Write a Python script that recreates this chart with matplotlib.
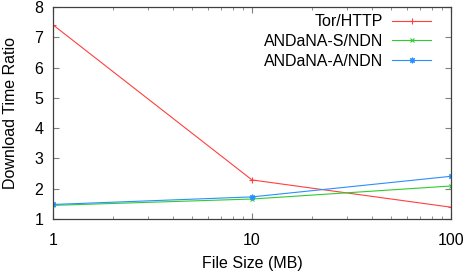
import numpy as np
import matplotlib
matplotlib.use('Agg')
import matplotlib.pyplot as plt

plt.rcParams['font.family'] = ['Liberation Sans', 'DejaVu Sans']

sizes = [1, 10, 100]  # file size (MB)
tor_http = [7.41, 2.29, 1.39]
andana_s = [1.45, 1.66, 2.09]
andana_a = [1.48, 1.73, 2.41]

fig = plt.figure(figsize=(4.66, 2.74), dpi=100)
ax = fig.add_axes([0.1137, 0.2007, 0.8541, 0.7738])

ax.plot(sizes, tor_http, '-', marker='+', color='#ff4040', lw=0.8, ms=4, mew=0.8, label='Tor/HTTP')
ax.plot(sizes, andana_s, '-', marker='x', color='#30cc30', lw=0.8, ms=3.5, mew=0.8, label='ANDaNA-S/NDN')
ax.plot(sizes, andana_a, '-', marker=(8, 2, 0), color='#2a8fff', lw=0.8, ms=4, mew=0.8, label='ANDaNA-A/NDN')

ax.set_xscale('log')
ax.set_xlim(1, 100)
ax.set_ylim(1, 8)
ax.set_xticks([1, 10, 100])
ax.set_xticklabels(['1', '10', '100'])
ax.set_yticks(range(1, 9))
ax.tick_params(which='both', direction='in', top=True, right=True, labelsize=11.5, color='#808080')
ax.tick_params(which='major', length=4, pad=10)
ax.tick_params(which='minor', length=2)
ax.tick_params(axis='y', pad=7)
for s in ax.spines.values():
    s.set_color('#404040')
    s.set_linewidth(0.9)

ax.set_xlabel('File Size (MB)', fontsize=11.5, labelpad=6)
ax.set_ylabel('Download Time Ratio', fontsize=11.5, labelpad=12)

leg = ax.legend(loc='upper right', frameon=False, fontsize=11.5, markerfirst=False,
                handlelength=2.5, handletextpad=0.55, labelspacing=0.3,
                bbox_to_anchor=(0.967, 0.996), borderaxespad=0)
for t in leg.get_texts():
    t.set_ha('right')
leg._legend_box.align = 'right'

fig.savefig('out.png', dpi=100)
